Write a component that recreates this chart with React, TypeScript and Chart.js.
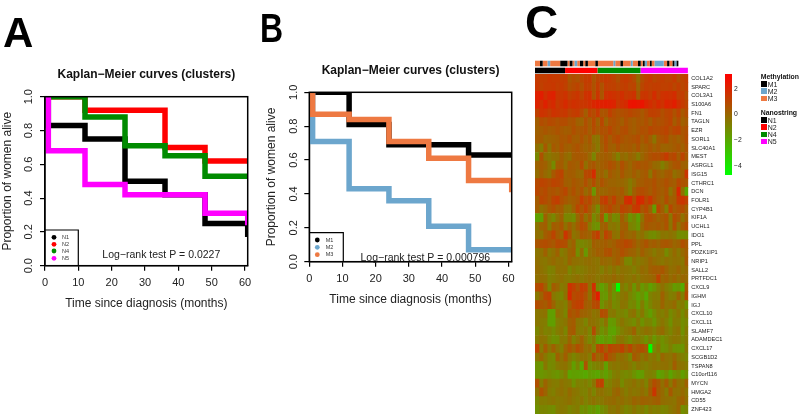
import React, { useEffect, useRef } from "react";
import { Chart, registerables } from "chart.js";

Chart.register(...registerables);

const FONT = '"Liberation Sans", Arial, sans-serif';

// ---------- Kaplan-Meier values (months, proportion alive) ----------
const monthsA = [0, 1, 12, 24, 36, 48, 60.8];
const monthsB = [0, 1, 12, 24, 36, 48, 61];
const N1 = [1, 0.83, 0.75, 0.5, 0.42, 0.25, 0.17];
const N2 = [1, 1, 0.92, 0.92, 0.7, 0.62, 0.62];
const N4 = [1, 1, 0.88, 0.71, 0.65, 0.53, 0.53];
const N5 = [1, 0.68, 0.48, 0.42, 0.42, 0.31, 0.24];
const M1 = [1, 1, 0.81, 0.69, 0.69, 0.63, 0.63];
const M2 = [1, 0.71, 0.43, 0.36, 0.21, 0.07, 0.07];
const M3 = [1, 0.87, 0.84, 0.71, 0.61, 0.48, 0.41];
const nanoNames = ["N1", "N2", "N4", "N5"];
const nanoColors = ["#000000", "#FF0000", "#008B00", "#FF00FF"];
const methNames = ["M1", "M2", "M3"];
const methColors = ["#000000", "#6CA6CD", "#EE7942"];

// ---------- Heatmap values, one array per gene ----------
const genes = ["COL1A2","SPARC","COL3A1","S100A6","FN1","TAGLN","EZR","SORL1","SLC40A1","MEST","ASRGL1","ISG15","CTHRC1","DCN","FOLR1","CYP4B1","KIF1A","UCHL1","IDO1","PPL","PDZK1IP1","NRIP1","SALL2","PRTFDC1","CXCL9","IGHM","IGJ","CXCL10","CXCL11","SLAMF7","ADAMDEC1","CXCL17","SCGB1D2","TSPAN8","C10orf116","MYCN","HMGA2","CD55","ZNF423"];
const COL1A2 = [1.6,1.5,1.5,1.7,1.6,1.6,1.5,1.5,0.7,1.0,0.8,1.2,1.5,1.6,0.7,1.3,1.4,1.6,1.5,1.3,0.9,1.5,1.6,1.4,1.0,0.0,1.0,1.4,1.6,1.2,1.4,1.5,1.3,1.3,1.6,1.0,1.3,1.5];
const SPARC = [1.7,1.4,1.6,1.6,1.7,1.5,1.6,1.4,0.9,1.1,1.3,0.9,1.5,1.4,0.8,1.5,0.8,1.5,1.4,1.4,1.2,1.4,1.5,1.2,1.3,0.3,1.2,1.5,1.4,1.5,1.5,1.4,1.4,1.5,1.2,1.5,1.2,1.4];
const COL3A1 = [2.5,2.6,2.0,2.4,2.5,1.8,1.7,1.9,1.4,1.6,1.8,1.3,1.9,2.0,0.8,1.8,0.7,1.9,2.0,1.9,1.7,2.0,1.6,1.7,1.9,0.6,1.7,1.8,1.5,2.1,1.5,1.9,2.0,1.9,2.1,1.4,1.5,1.0];
const S100A6 = [2.4,2.0,2.5,2.0,2.2,1.6,1.9,2.2,1.8,2.0,1.9,1.7,1.8,2.0,2.3,2.5,2.5,2.6,2.5,2.4,1.7,2.0,2.2,2.9,3.0,2.8,2.9,2.4,2.1,1.8,2.2,1.9,2.4,2.3,2.6,2.0,1.6,1.3];
const FN1 = [1.4,1.9,1.8,1.5,1.9,1.8,1.6,1.7,1.3,1.5,1.6,1.1,0.4,1.3,1.0,1.6,0.7,0.8,1.4,1.0,0.8,0.9,1.0,1.2,1.0,0.9,0.6,1.0,1.4,1.4,1.3,0.9,1.2,1.3,0.8,1.3,0.6,1.0];
const TAGLN = [0.4,1.0,0.8,1.1,1.0,0.8,1.0,1.0,0.7,0.8,0.3,0.2,0.9,0.4,1.1,0.3,1.2,0.2,0.8,0.9,0.7,0.4,0.9,0.6,0.4,0.7,0.6,0.9,0.5,1.0,0.8,0.9,1.1,1.3,0.5,1.0,0.3,0.6];
const EZR = [0.3,0.5,0.7,0.5,0.6,0.8,0.6,0.4,0.5,0.9,0.6,0.7,0.9,0.4,1.0,0.6,0.9,0.8,1.2,0.8,0.6,0.9,1.0,0.6,0.4,0.7,0.9,0.8,1.2,1.0,1.0,1.1,1.3,0.9,1.2,1.3,0.7,0.9];
const SORL1 = [0.4,0.5,0.1,0.2,0.3,0.4,0.7,0.6,0.9,0.5,0.4,0.8,0.3,0.7,-0.3,-0.4,0.5,1.0,0.5,0.9,1.1,0.8,0.6,0.7,0.8,1.0,0.5,0.9,0.4,-0.4,0.6,0.8,1.0,0.4,0.6,0.3,0.6,1.0];
const SLC40A1 = [-0.2,-0.7,0.6,-0.4,0.6,0.3,0.8,0.4,0.3,0.6,0.8,0.5,0.2,0.4,0.0,-0.5,0.3,0.9,0.4,0.3,0.8,0.4,0.5,0.6,0.3,0.8,0.2,0.4,0.7,0.3,0.6,0.2,0.2,0.3,0.5,0.7,0.3,0.8];
const MEST = [-1.1,0.8,-0.3,-0.5,-0.2,-0.1,0.4,0.0,-0.2,0.5,0.6,0.6,0.5,0.0,-1.0,0.2,0.3,0.5,0.3,-0.1,-0.8,0.0,-0.2,0.2,0.0,-0.6,0.1,0.5,0.8,1.0,0.9,1.2,1.6,1.0,1.2,0.5,1.3,0.6];
const ASRGL1 = [0.2,0.5,0.3,-0.2,-1.2,0.4,0.5,-0.1,0.6,0.5,0.3,1.0,-0.2,0.5,0.7,0.2,0.4,0.6,0.9,0.7,0.2,0.9,0.4,0.1,0.6,0.8,0.6,0.7,0.4,0.0,-0.1,-0.8,-0.2,0.3,0.7,0.8,0.3,0.2];
const ISG15 = [-0.1,0.4,0.0,-0.3,0.6,1.1,1.3,0.3,0.5,0.4,0.1,0.0,1.1,1.2,2.1,0.1,0.3,-0.2,0.6,0.3,0.1,0.7,0.2,0.1,0.5,0.1,0.4,0.6,-0.4,0.7,0.3,0.1,0.5,0.6,-0.2,0.1,0.4,1.8];
const CTHRC1 = [1.1,1.3,1.2,1.0,1.3,1.2,1.0,0.4,0.3,0.7,0.5,0.3,0.9,0.3,1.0,0.2,0.8,0.4,0.2,0.2,0.1,0.1,-0.1,-0.6,-0.1,0.4,0.5,0.7,0.6,0.9,0.5,0.6,0.9,0.6,0.4,1.1,0.8,0.7];
const DCN = [1.2,0.9,1.1,0.7,0.8,0.6,0.9,1.2,0.5,0.9,0.4,0.8,0.0,0.5,-1.6,0.3,0.1,0.2,0.4,0.5,0.3,0.6,0.0,-0.7,0.4,0.9,1.0,0.8,0.5,0.9,0.6,0.4,0.8,-0.3,0.4,2.2,-0.3,-2.2];
const FOLR1 = [0.5,1.2,1.0,0.7,1.3,1.5,0.9,0.6,0.3,0.5,0.7,1.5,0.9,1.2,0.3,0.2,1.3,1.6,0.8,1.4,0.6,0.5,2.0,2.2,1.0,2.3,2.1,1.2,1.8,0.9,0.5,0.2,1.0,0.3,0.5,1.6,1.8,1.4];
const CYP4B1 = [0.4,-0.2,0.1,0.6,0.9,0.4,0.5,-0.3,-0.4,0.3,1.2,0.7,1.3,0.6,-0.2,-1.2,0.6,0.9,1.2,0.7,0.5,1.3,1.1,0.8,1.6,1.8,0.7,1.1,0.3,-1.8,1.2,0.4,-0.7,1.2,0.5,0.8,1.0,0.4];
const KIF1A = [-2.0,-1.9,0.3,-0.6,-1.1,-0.2,0.3,-1.0,-1.0,-1.3,0.1,0.8,-0.3,0.4,-1.2,-0.5,0.7,-1.8,-0.3,-1.2,-1.0,0.5,-0.3,-1.5,-1.0,-1.9,-0.3,0.8,0.9,0.6,0.2,0.5,0.8,-0.5,1.0,0.6,-0.3,0.4];
const UCHL1 = [-0.4,0.2,0.4,-0.7,0.5,0.3,0.7,-0.3,0.4,-0.2,0.5,1.0,0.8,-0.5,-1.3,-1.5,0.2,0.4,-0.5,-0.4,-0.7,0.3,0.4,-0.9,-1.1,-1.6,0.1,0.7,0.5,0.4,0.6,0.3,0.8,-0.4,0.9,-0.3,0.5,1.0];
const IDO1 = [-0.2,-0.4,0.4,0.7,1.3,0.5,0.1,1.8,0.9,-0.4,-0.1,0.6,0.4,0.2,1.0,1.5,0.0,1.3,0.8,-0.2,-0.4,0.6,0.2,0.0,0.2,-0.5,-0.2,-0.8,-1.2,-1.3,-0.9,-0.4,-0.5,-0.3,-0.5,-1.2,-1.3,-1.2];
const PPL = [0.7,0.9,1.0,0.8,0.6,1.1,1.0,0.9,-0.1,0.3,-1.0,-1.1,-0.9,-0.6,0.4,0.2,0.3,0.5,0.2,0.4,0.8,0.9,1.2,1.0,0.6,0.1,0.4,0.8,0.3,0.5,0.2,0.6,0.7,0.5,0.1,0.3,0.9,0.6];
const PDZK1IP1 = [-0.4,-0.3,0.3,-0.5,-0.2,0.3,-0.7,-0.4,0.2,0.4,-1.3,-0.1,-1.7,-0.2,0.1,0.4,0.3,0.8,0.9,0.3,0.5,0.9,0.6,0.3,0.2,-0.2,0.4,0.0,-0.2,-0.6,-0.2,-0.3,-1.2,-0.5,0.0,-0.5,0.0,0.4];
const NRIP1 = [-0.2,-0.4,-0.5,-0.2,0.0,-0.3,-0.2,-0.5,0.2,-0.2,-0.3,-0.4,-0.2,-0.1,-0.3,-0.4,0.1,0.0,-0.1,0.2,0.5,0.0,-1.0,-1.1,-0.3,-0.6,-0.4,-0.2,0.2,-0.1,-0.3,-0.5,-0.2,-0.4,-0.2,-0.3,-0.5,0.6];
const SALL2 = [-0.1,-0.3,-0.5,-0.9,-0.8,-0.2,-0.3,-0.2,-1.0,-0.5,-0.8,-0.7,-0.5,-0.3,-0.2,-0.4,-0.8,-0.3,-0.6,-0.2,-0.6,-0.3,-0.4,-0.5,-0.8,-0.4,0.0,-0.2,0.3,0.5,0.4,0.7,0.2,-0.2,-0.1,0.2,-0.3,0.0];
const PRTFDC1 = [-0.3,-0.1,-0.2,-0.8,-0.6,-0.4,-0.2,-0.5,-0.6,-0.4,-0.2,-0.5,-0.3,-0.1,-0.2,-0.5,-0.3,-0.1,-0.2,0.1,-0.3,-0.1,-0.4,-0.5,-0.2,-0.6,-0.2,-0.1,0.0,0.2,1.3,0.1,0.3,-0.1,0.2,-0.2,0.1,0.0];
const CXCL9 = [1.0,1.2,0.3,-1.0,0.5,0.1,-0.6,-0.4,1.9,1.4,0.8,1.5,1.3,-0.2,2.0,-1.2,-2.0,-1.4,-0.4,-1.5,-4.7,-0.5,-1.0,-0.4,-1.6,-0.5,-1.7,-1.2,-2.0,-1.5,-0.8,-0.2,-0.7,-1.0,-1.8,-1.6,-2.4,0.6];
const IGHM = [-0.5,0.2,1.1,1.3,-0.5,-0.8,-1.1,-0.3,2.2,1.0,1.2,1.3,0.8,-0.2,1.4,2.6,-1.6,-1.7,-0.6,-1.5,-1.0,-0.5,-0.3,-1.0,-1.4,-2.0,-1.5,-2.3,-0.9,-0.6,-0.7,0.3,-0.4,-0.8,-0.6,0.2,-0.8,1.0];
const IGJ = [1.0,0.7,0.5,1.0,0.2,-0.6,-0.5,-0.8,0.4,1.2,1.4,1.5,0.5,0.3,1.0,1.2,-1.5,-0.8,-0.4,-1.2,-1.0,-0.4,-0.5,-1.2,-1.0,-1.8,-0.7,-1.7,-1.0,-0.5,-0.5,0.2,-0.4,-0.3,0.0,-0.8,-0.6,-1.4];
const CXCL10 = [-0.5,-0.4,-0.3,-1.9,-1.9,-0.2,-0.5,-1.0,0.9,0.6,0.9,0.3,0.2,0.0,-0.4,-0.2,1.0,0.8,-0.6,-0.5,-1.0,-0.9,-1.2,-0.5,-0.3,-1.2,-0.5,-1.4,-1.9,-1.2,-0.6,-0.8,-0.4,-1.2,-0.8,-0.4,-1.2,-0.5];
const CXCL11 = [-0.5,-0.6,-0.7,-1.9,-1.9,-0.8,-0.6,-0.4,0.3,0.5,-0.4,-0.5,-1.0,-0.2,-0.3,-0.5,-1.0,-0.3,-1.8,-1.7,-0.9,-0.4,-0.8,-1.0,-1.3,-0.6,-1.5,-0.9,-1.0,-1.6,-0.8,-0.4,-0.8,-1.4,-0.6,-0.7,-1.3,-1.0];
const SLAMF7 = [-1.0,-0.5,-0.9,-0.8,-1.2,-0.7,-0.4,-1.0,0.4,0.6,-0.5,-0.7,-0.4,-1.0,1.0,-0.6,-1.5,-1.0,-2.0,-2.1,-1.4,-0.8,-0.5,-0.3,0.3,-0.8,-0.5,-0.2,-0.4,-0.8,-0.3,0.0,-0.6,-1.0,-0.5,-0.3,-1.4,-0.6];
const ADAMDEC1 = [-0.6,-0.3,-0.4,-1.0,-1.4,-1.3,-0.5,-0.6,0.2,-0.8,-0.3,0.3,-0.5,-1.1,-0.5,-1.8,-2.0,-1.6,-1.9,-1.4,-0.6,-0.4,-0.8,-1.2,-0.6,-0.5,-0.9,-1.5,-0.8,-1.7,-1.0,-1.4,-1.0,-0.6,-0.4,-0.5,-1.0,-0.6];
const CXCL17 = [1.3,-0.6,0.5,-0.4,0.3,-0.4,-0.8,0.2,0.7,0.2,0.9,0.5,-0.2,0.0,-0.9,1.0,1.3,0.5,1.3,1.0,0.9,1.4,0.6,1.2,0.3,0.7,0.9,0.4,-4.7,-1.2,-0.5,-1.5,-1.3,-0.8,-1.4,-1.5,-1.6,-0.5];
const SCGB1D2 = [-0.4,0.1,-0.5,-1.0,-1.2,0.3,-0.3,0.4,-0.5,-1.0,-0.6,-0.3,-0.2,-0.7,1.0,0.1,0.4,1.4,0.6,0.3,-0.3,-0.1,-0.4,-1.0,0.6,0.2,-0.4,0.0,-0.6,-0.4,-0.9,0.1,-0.3,-0.4,0.1,-0.5,-0.8,-1.0];
const TSPAN8 = [-1.5,-1.7,-0.5,-1.2,-1.1,-0.6,-0.4,-0.3,-0.8,-1.9,-1.0,-2.3,0.8,-1.4,-1.0,-0.8,-0.6,-2.0,-0.6,-0.4,-0.5,-0.3,-0.2,-0.5,-0.9,-0.4,-0.6,-0.8,-0.5,-0.3,-0.4,-0.3,-0.2,-0.5,0.4,-0.3,-0.4,-0.6];
const C10orf116 = [-1.5,-1.6,-1.4,-1.2,-1.4,-1.6,-1.2,-0.7,-2.1,-1.9,-2.0,-2.1,-2.3,-1.8,-2.0,-2.2,-1.6,-2.0,-1.4,-0.8,-0.6,-1.0,-1.2,-1.0,-1.5,-2.0,-1.8,-0.9,-0.8,-1.0,-2.2,-1.8,-1.3,-2.1,-1.5,-1.2,-1.9,-1.4];
const MYCN = [0.9,-0.7,0.2,-0.4,-0.6,-0.7,-0.3,-0.5,-0.6,-1.4,-0.8,-0.9,-0.7,-1.1,-0.4,1.2,1.4,-1.0,-0.8,-0.4,-0.3,-1.2,-0.6,-0.5,-0.2,-0.6,-0.3,-0.9,0.2,1.0,0.6,-0.2,0.5,-0.5,0.4,-0.2,-0.4,0.3];
const HMGA2 = [-0.3,0.8,0.2,-0.6,-0.8,-0.4,-0.2,-0.5,0.0,-0.4,-0.5,-0.8,-0.9,-0.4,-1.0,-0.3,-0.2,-0.5,-0.6,0.0,0.2,-0.3,-0.7,-0.3,-0.5,-0.4,-0.1,-0.5,0.5,1.8,0.4,0.0,-0.6,0.6,-0.2,-0.3,0.0,-0.4];
const CD55 = [-1.1,-0.6,-0.7,-0.5,-0.4,-0.6,-0.5,-0.4,-0.2,-0.5,-0.7,-0.4,-0.9,-0.5,-0.3,-0.6,-0.5,-0.2,-0.1,0.0,-0.3,-0.1,-0.4,-0.2,0.2,0.0,0.3,0.2,0.1,0.3,0.4,-0.1,-0.2,-0.3,-0.4,0.1,0.3,-0.2];
const ZNF423 = [-1.4,-1.0,-1.0,-1.2,-1.3,-0.7,-0.5,-0.6,-1.0,-0.8,-0.6,-1.4,-1.2,-1.7,-1.5,-2.0,-1.3,-1.0,-0.4,-0.5,-0.2,-0.6,-1.0,-0.8,-0.4,-0.8,-0.6,-1.1,-0.5,-0.8,-0.7,-1.0,-0.9,-0.5,-0.3,0.1,-1.3,-1.0];
const heatRows = [COL1A2,SPARC,COL3A1,S100A6,FN1,TAGLN,EZR,SORL1,SLC40A1,MEST,ASRGL1,ISG15,CTHRC1,DCN,FOLR1,CYP4B1,KIF1A,UCHL1,IDO1,PPL,PDZK1IP1,NRIP1,SALL2,PRTFDC1,CXCL9,IGHM,IGJ,CXCL10,CXCL11,SLAMF7,ADAMDEC1,CXCL17,SCGB1D2,TSPAN8,C10orf116,MYCN,HMGA2,CD55,ZNF423];

// ---------- Annotation tracks: run lengths of samples ----------
const methClass = [2,0,2,1,2,0,2,0,2,1,2,0,2,0,2,0,2,1,2,0,2,1,2,0,2,0,1,2,0,2,1,2,0,2,0,1,0];
const methRuns = [5,2.7,4.7,2.7,10,7.3,2,3,2,2.7,2.7,3.3,2,2.7,7.3,2.7,15.3,2,5,2.7,7.7,2,5.3,2.7,2,2,2.3,2.7,2,2.7,9.3,3.3,2.3,3,2,2,2];
const nanoRuns = [30, 32.3, 43, 47.3];

const VMIN = -4.72;
const VMAX = 3.14;

function heatColor(v: number) {
  // The picture's mid-range cells are calmer than the first reading: soften, but keep the extremes.
  const vv = v < -4 ? v : v < 0 ? v * 0.85 - 0.1 : v * 0.9 - 0.1;
  const t = Math.max(0, Math.min(1, (vv - VMIN) / (VMAX - VMIN)));
  return `rgb(${Math.round(255 * t)},${Math.round(255 * (1 - t))},0)`;
}

type KmSpec = {
  months: number[];
  series: number[][];
  names: string[];
  colors: string[];
  xMax: number;
  area: { left: number; right: number; top: number; bottom: number };
  width: number;
  height: number;
  pText: string;
  pPos: [number, number];
  legendBox: [number, number];
  legendX: [number, number];
  legendY: number[];
  yTitlePad: number;
};

const specA: KmSpec = {
  months: monthsA, series: [N1, N2, N4, N5], names: nanoNames, colors: nanoColors, xMax: 60.8,
  area: { left: 45, right: 247.7, top: 96.7, bottom: 265.7 }, width: 265, height: 320,
  pText: "Log\u2212rank test P = 0.0227", pPos: [161.3, 255],
  legendBox: [78.3, 230], legendX: [54, 62], legendY: [237.3, 244.3, 251, 258.3], yTitlePad: 0,
};
const specB: KmSpec = {
  months: monthsB, series: [M1, M2, M3], names: methNames, colors: methColors, xMax: 61,
  area: { left: 54.3, right: 256.7, top: 92.3, bottom: 261.7 }, width: 270, height: 320,
  pText: "Log\u2212rank test P = 0.000796", pPos: [170.3, 257.7],
  legendBox: [88.3, 232.7], legendX: [62.3, 70.7], legendY: [240, 247.3, 254.7], yTitlePad: 9,
};

function useChart(make: (c: HTMLCanvasElement) => Chart) {
  const ref = useRef<HTMLCanvasElement>(null);
  useEffect(() => {
    const ch = make(ref.current!);
    return () => ch.destroy();
  }, []);
  return ref;
}

const noPad = (sc: any) => {
  sc.paddingTop = 0;
  sc.paddingBottom = 0;
  sc.paddingLeft = 0;
  sc.paddingRight = 0;
};

function makeKm(canvas: HTMLCanvasElement, s: KmSpec) {
  const decor = {
    id: "kmDecor",
    afterDatasetsDraw(chart: Chart) {
      const { ctx, chartArea: a } = chart;
      ctx.save();
      ctx.strokeStyle = "#000";
      ctx.lineWidth = 1.5;
      ctx.strokeRect(a.left, a.top, a.right - a.left, a.bottom - a.top);
      ctx.lineWidth = 1.2;
      ctx.beginPath();
      ctx.moveTo(a.left, s.legendBox[1]);
      ctx.lineTo(s.legendBox[0], s.legendBox[1]);
      ctx.lineTo(s.legendBox[0], a.bottom);
      ctx.stroke();
      ctx.textBaseline = "middle";
      s.names.forEach((n, i) => {
        ctx.fillStyle = s.colors[i];
        ctx.beginPath();
        ctx.arc(s.legendX[0], s.legendY[i], 2.4, 0, Math.PI * 2);
        ctx.fill();
        ctx.fillStyle = "#333";
        ctx.font = `5.5px ${FONT}`;
        ctx.textAlign = "left";
        ctx.fillText(n, s.legendX[1], s.legendY[i]);
      });
      ctx.fillStyle = "#222";
      ctx.font = `10.5px ${FONT}`;
      ctx.textAlign = "center";
      ctx.fillText(s.pText, s.pPos[0], s.pPos[1]);
      ctx.restore();
    },
  };
  const tickGrid = { drawOnChartArea: false, drawTicks: true, tickLength: 5, color: "#000", lineWidth: 1.2 };
  return new Chart(canvas, {
    type: "line",
    data: {
      datasets: s.series.map((vals, i) => ({
        label: s.names[i],
        data: vals.map((y, j) => ({ x: s.months[j], y })),
        borderColor: s.colors[i],
        backgroundColor: s.colors[i],
        borderWidth: 5.5,
        pointRadius: 0,
        stepped: "before",
        fill: false,
        clip: 0,
        order: s.series.length - i,
        borderCapStyle: "butt",
        borderJoinStyle: "miter",
      })),
    },
    options: {
      animation: false,
      responsive: false,
      layout: {
        autoPadding: false,
        padding: { left: 0, right: s.width - s.area.right, top: s.area.top - 28.9, bottom: 0 },
      },
      plugins: {
        legend: { display: false },
        tooltip: { enabled: false },
        title: {
          display: true,
          fullSize: false,
          text: "Kaplan\u2212Meier curves (clusters)",
          color: "#111",
          font: { family: FONT, size: 12, weight: "bold", lineHeight: 1.2 },
          padding: { top: 0, bottom: 14.5 },
        },
      },
      scales: {
        x: {
          type: "linear",
          min: 0,
          max: s.xMax,
          grid: tickGrid,
          border: { display: true, color: "#000", width: 1.2 },
          ticks: { stepSize: 10, includeBounds: false, color: "#222", padding: 5.5, maxRotation: 0, font: { family: FONT, size: 11 } },
          title: {
            display: true,
            text: "Time since diagnosis (months)",
            color: "#222",
            font: { family: FONT, size: 12, lineHeight: 1.2 },
            padding: { top: 0, bottom: s.height - s.area.bottom - 37 - 8.2 },
          },
          afterFit: (sc: any) => { noPad(sc); sc.height = s.height - s.area.bottom; },
        },
        y: {
          min: 0,
          max: 1,
          grid: tickGrid,
          border: { display: true, color: "#000", width: 1.2 },
          ticks: {
            stepSize: 0.2,
            color: "#222",
            padding: 3,
            minRotation: 90,
            maxRotation: 90,
            crossAlign: "center",
            font: { family: FONT, size: 11 },
            callback: (v: any) => Number(v).toFixed(1),
          },
          title: {
            display: true,
            text: "Proportion of women alive",
            color: "#222",
            font: { family: FONT, size: 12, lineHeight: 1.2 },
            padding: { top: s.yTitlePad, bottom: 0 },
          },
          afterFit: (sc: any) => { noPad(sc); sc.width = s.area.left; },
        },
      },
    },
    plugins: [decor],
  } as any);
}

function makeHeat(canvas: HTMLCanvasElement) {
  const colCount = heatRows[0].length;
  const datasets = Array.from({ length: colCount }, (_, c) => ({
    label: `sample ${c + 1}`,
    data: genes.map(() => 1),
    backgroundColor: heatRows.map((r) => heatColor(r[c] ?? 0)),
    borderWidth: 0,
    barPercentage: 1,
    categoryPercentage: 1,
  }));
  return new Chart(canvas, {
    type: "bar",
    data: { labels: genes, datasets },
    options: {
      indexAxis: "y",
      animation: false,
      responsive: false,
      layout: { autoPadding: false, padding: 0 },
      plugins: { legend: { display: false }, tooltip: { enabled: false } },
      scales: {
        x: { stacked: true, display: false, min: 0, max: colCount },
        y: {
          stacked: true,
          position: "right",
          grid: { display: false, drawTicks: false },
          border: { display: false },
          ticks: { autoSkip: false, padding: 3, color: "#222", font: { family: FONT, size: 5.6 } },
          afterFit: (sc: any) => { noPad(sc); sc.width = 46.7; },
        },
      },
    },
  } as any);
}

function makeTracks(canvas: HTMLCanvasElement) {
  const methDs = methRuns.map((w, i) => ({
    label: methNames[methClass[i]],
    data: [w, 0],
    backgroundColor: methColors[methClass[i]],
  }));
  const nanoDs = nanoRuns.map((w, i) => ({
    label: nanoNames[i],
    data: [0, w],
    backgroundColor: nanoColors[i],
  }));
  return new Chart(canvas, {
    type: "bar",
    data: {
      labels: ["Methylation", "Nanostring"],
      datasets: [...methDs, ...nanoDs].map((d) => ({ ...d, borderWidth: 0, barPercentage: 0.8, categoryPercentage: 1 })),
    },
    options: {
      indexAxis: "y",
      animation: false,
      responsive: false,
      layout: { autoPadding: false, padding: 0 },
      plugins: { legend: { display: false }, tooltip: { enabled: false } },
      scales: {
        x: { stacked: true, display: false, min: 0, max: 152.7 },
        y: { stacked: true, display: false },
      },
    },
  } as any);
}

function makeBar(canvas: HTMLCanvasElement) {
  return new Chart(canvas, {
    type: "bar",
    data: {
      labels: ["scale"],
      datasets: [{
        data: [[VMIN, VMAX]],
        barPercentage: 1,
        categoryPercentage: 1,
        borderWidth: 0,
        backgroundColor: (c: any) => {
          const a = c.chart.chartArea;
          if (!a) return "#888";
          const g = c.chart.ctx.createLinearGradient(0, a.top, 0, a.bottom);
          g.addColorStop(0, "#ff0000");
          g.addColorStop(1, "#00ff00");
          return g;
        },
      }],
    },
    options: {
      animation: false,
      responsive: false,
      layout: { autoPadding: false, padding: 0 },
      plugins: { legend: { display: false }, tooltip: { enabled: false } },
      scales: {
        x: { display: false },
        y: {
          position: "right",
          min: VMIN,
          max: VMAX,
          grid: { display: false, drawTicks: false },
          border: { display: false },
          ticks: {
            stepSize: 2,
            includeBounds: false,
            padding: 2,
            color: "#222",
            font: { family: FONT, size: 6.8 },
            callback: (v: any) => String(v).replace("-", "\u2212"),
          },
          afterFit: (sc: any) => { noPad(sc); sc.width = 19; },
        },
      },
    },
  } as any);
}

const abs = (left: number, top: number): React.CSSProperties => ({ position: "absolute", left, top });

function Letter({ t, left, top, size, sx = 1 }: { t: string; left: number; top: number; size: number; sx?: number }) {
  return (
    <div style={{ ...abs(left, top), font: `bold ${size}px/1 ${FONT}`, color: "#000", transform: `scaleX(${sx})`, transformOrigin: "left" }}>{t}</div>
  );
}

function KeyBlock({ title, names, colors, top }: { title: string; names: string[]; colors: string[]; top: number }) {
  return (
    <>
      <div style={{ ...abs(760.7, top - 4.5), font: `bold 6.9px/9px ${FONT}`, color: "#111" }}>{title}</div>
      {names.map((n, i) => (
        <React.Fragment key={n}>
          <div style={{ ...abs(761, top + 4.5 + i * 7.25), width: 5.5, height: 5.5, background: colors[i] }} />
          <div style={{ ...abs(767.7, top + 2.8 + i * 7.25), font: `7px/9px ${FONT}`, color: "#222" }}>{n}</div>
        </React.Fragment>
      ))}
    </>
  );
}

export default function App() {
  const a = useChart((c) => makeKm(c, specA));
  const b = useChart((c) => makeKm(c, specB));
  const h = useChart(makeHeat);
  const t = useChart(makeTracks);
  const k = useChart(makeBar);
  return (
    <div style={{ position: "fixed", left: 0, top: 0, width: 800, height: 418, overflow: "hidden", background: "#fff", filter: "blur(0.45px)" }}>
      <canvas ref={a} width={specA.width} height={specA.height} style={{ ...abs(0, 0), width: specA.width, height: specA.height }} />
      <canvas ref={b} width={specB.width} height={specB.height} style={{ ...abs(255, 0), width: specB.width, height: specB.height }} />
      <canvas ref={t} width={153} height={14} style={{ ...abs(535, 60), width: 153, height: 14 }} />
      <canvas ref={h} width={200} height={340} style={{ ...abs(535, 74), width: 200, height: 340, filter: "blur(0.5px)" }} />
      <canvas ref={k} width={26} height={101} style={{ ...abs(725, 74), width: 26, height: 101 }} />
      <Letter t="A" left={3} top={11.5} size={42} />
      <Letter t="B" left={260} top={8} size={40} sx={0.8} />
      <Letter t="C" left={525} top={-1.4} size={46} />
      <KeyBlock title="Methylation" names={methNames} colors={methColors} top={76.7} />
      <KeyBlock title="Nanostring" names={nanoNames} colors={nanoColors} top={112.7} />
    </div>
  );
}
